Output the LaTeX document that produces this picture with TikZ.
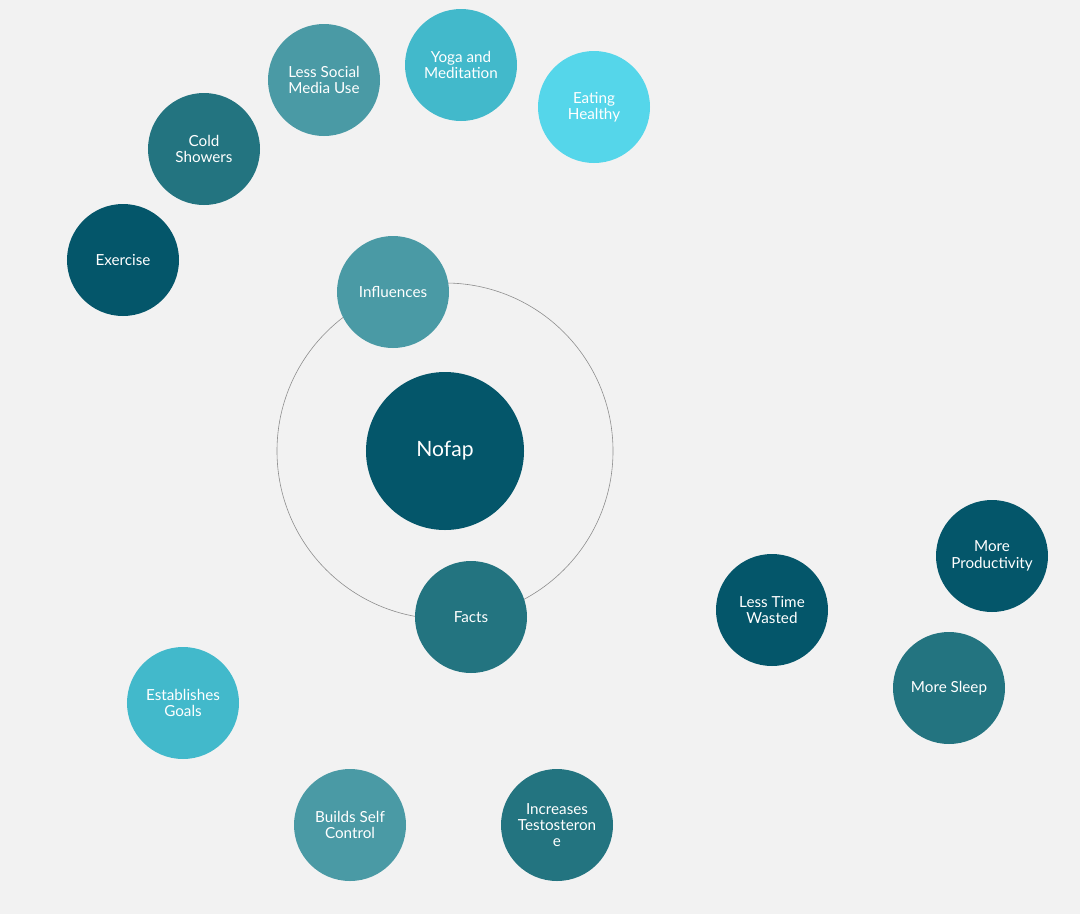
\documentclass[tikz,border=0pt]{standalone}
\usepackage{fontspec}
\setmainfont{Lato}
\usetikzlibrary{backgrounds}
\definecolor{deep}{HTML}{04566A}
\definecolor{mid}{HTML}{237480}
\definecolor{soft}{HTML}{4A9AA5}
\definecolor{light}{HTML}{42B9CB}
\definecolor{pale}{HTML}{55D6EA}
\definecolor{bg}{HTML}{F2F2F2}
\begin{document}
\begin{tikzpicture}[
        x=0.03cm, y=-0.03cm,
        topic/.style={circle, minimum size=3.36cm, inner sep=0pt, align=center, text=white, font=\fontsize{13}{14}\selectfont},
        link/.style={draw=gray!90, line width=0.5pt}
    ]
        \fill[bg] (0,0) rectangle (1080,914);

        \node[circle, minimum size=10.08cm, draw=gray!90, line width=0.5pt] (ring) at (445,451) {};
        \node[topic, fill=deep, minimum size=4.74cm, font=\fontsize{18}{20}\selectfont] (nofap) at (445,451) {Nofap};

        \node[topic, fill=soft] (influences) at (393,292) {Influences};
        \node[topic, fill=mid] (facts) at (471,617) {Facts};
        \node[topic, fill=soft] (social) at (324,80) {Less Social\\Media Use};
        \node[topic, fill=mid] (cold) at (204,149) {Cold\\Showers};
        \node[topic, fill=deep] (exercise) at (123,260) {Exercise};
        \node[topic, fill=light] (yoga) at (461,65) {Yoga and\\Meditation};
        \node[topic, fill=pale] (eating) at (594,107) {Eating\\Healthy};
        \node[topic, fill=light] (goals) at (183,703) {Establishes\\Goals};
        \node[topic, fill=soft] (control) at (350,825) {Builds Self\\Control};
        \node[topic, fill=mid] (testo) at (557,825) {Increases\\Testosteron\\e};
        \node[topic, fill=deep] (wasted) at (772,610) {Less Time\\Wasted};
        \node[topic, fill=deep] (product) at (992,556) {More\\Productivity};
        \node[topic, fill=mid] (sleep) at (949,688) {More Sleep};
        \coordinate (split) at (975,622);

        \begin{pgfonlayer}{background}
            \draw[link] (influences) -- (social);
            \draw[link] (social) -- (cold);
            \draw[link] (cold) -- (exercise);
            \draw[link] (social) -- (yoga);
            \draw[link] (yoga) -- (eating);
            \draw[link] (facts) -- (testo);
            \draw[link] (testo) to[bend left=12] (control);
            \draw[link] (control) to[bend left=8] (goals);
            \draw[link] (testo) to[bend right=22] (wasted);
            \draw[link] (wasted) -- (split);
            \draw[link] (split) -- (product);
            \draw[link] (split) -- (sleep);
        \end{pgfonlayer}
    \end{tikzpicture}
\end{document}
